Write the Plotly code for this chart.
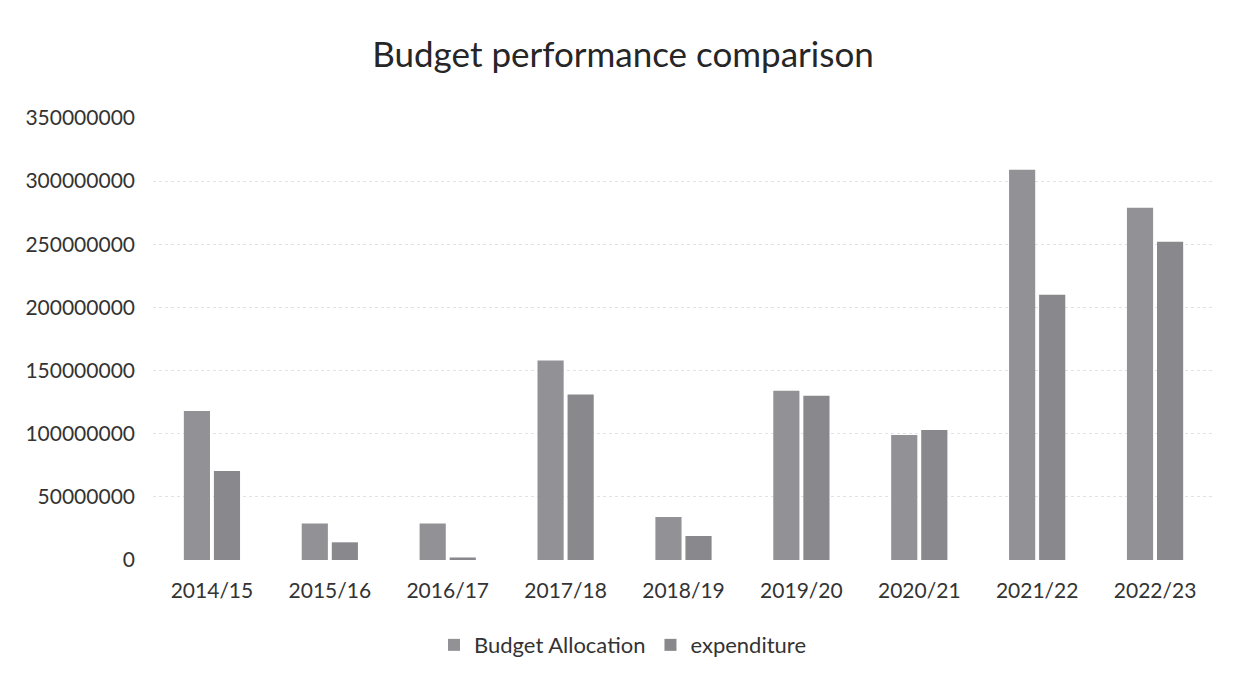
import plotly.graph_objects as go

years = ["2014/15", "2015/16", "2016/17", "2017/18", "2018/19",
         "2019/20", "2020/21", "2021/22", "2022/23"]
budget_allocation = [118000000, 29000000, 29000000, 158000000, 34000000,
                     134000000, 99000000, 309000000, 279000000]
expenditure = [70500000, 14000000, 2000000, 131000000, 19000000,
               130000000, 103000000, 210000000, 252000000]
y_ticks = [0, 50000000, 100000000, 150000000, 200000000, 250000000, 300000000, 350000000]

font_family = "Lato, 'Open Sans', sans-serif"

fig = go.Figure()
fig.add_trace(go.Bar(name="Budget Allocation", x=years, y=budget_allocation,
                     marker=dict(color="#929296", line=dict(width=0))))
fig.add_trace(go.Bar(name="expenditure", x=years, y=expenditure,
                     marker=dict(color="#88888d", line=dict(width=0))))

fig.update_layout(
    width=1230, height=672,
    paper_bgcolor="white", plot_bgcolor="white",
    barmode="group", bargap=0.49, bargroupgap=0.13,
    margin=dict(l=145, r=24, t=110, b=120, autoexpand=False),
    title=dict(text="Budget performance comparison", x=0.5, xanchor="center",
               y=0.93, yanchor="middle",
               font=dict(family=font_family, size=35, color="#262626")),
    font=dict(family=font_family, color="#3a3a3a"),
    xaxis=dict(showgrid=False, showline=False, ticks="", tickangle=0,
               tickfont=dict(size=21, color="#333333"), ticklabelstandoff=16),
    yaxis=dict(range=[0, 350000000], tickvals=y_ticks,
               ticktext=[str(v) for v in y_ticks],
               showgrid=True, gridcolor="#e2e2e2", griddash="dot", gridwidth=1,
               zeroline=False, showline=False, ticks="",
               tickfont=dict(size=21, color="#333333"), ticklabelstandoff=17),
    legend=dict(orientation="h", xref="container", yref="container",
                x=0.5, xanchor="center", y=0.052, yanchor="middle",
                font=dict(size=22, color="#333333"), itemwidth=30),
)

fig.write_html("out.html")
